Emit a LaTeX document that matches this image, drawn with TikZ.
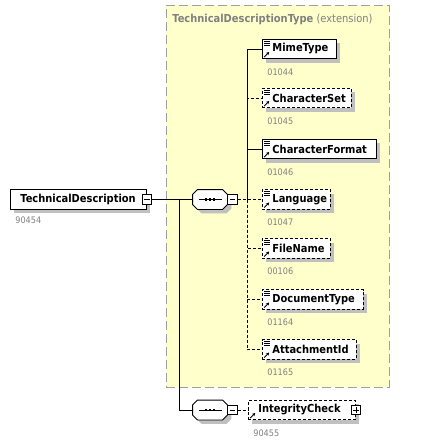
\documentclass[tikz,border=0pt]{standalone}
\usepackage{fontspec}
\setmainfont{DejaVu Sans Condensed}
\usetikzlibrary{shadows,arrows.meta}
\definecolor{ybg}{RGB}{255,255,204}
\definecolor{yborder}{RGB}{160,160,160}
\definecolor{shgray}{RGB}{192,192,192}
\definecolor{numgray}{RGB}{128,128,128}
\definecolor{titlegray}{RGB}{128,128,128}
\newcommand\octpath[1]{([xshift=5pt]#1.north west) -- ([xshift=-5pt]#1.north east) -- ([yshift=-5pt]#1.north east) -- ([yshift=5pt]#1.south east) -- ([xshift=-5pt]#1.south east) -- ([xshift=5pt]#1.south west) -- ([yshift=5pt]#1.south west) -- ([yshift=-5pt]#1.north west) -- cycle}
\newcommand\seqdraw[1]{%
  \fill[shgray, transform canvas={shift={(4pt,-4pt)}}] \octpath{#1};
  \draw[fill=white] \octpath{#1};
  \draw ([xshift=-11.5pt]#1.center) -- ([xshift=11.5pt]#1.center);
  \foreach \dx in {-4,0,4} {\fill ([xshift=\dx pt-1.3pt,yshift=-1.3pt]#1.center) rectangle ([xshift=\dx pt+1.3pt,yshift=1.3pt]#1.center);}
}
\newcommand\minusdraw[1]{\draw[line width=0.8pt] ([xshift=-2.6pt]#1.center) -- ([xshift=2.6pt]#1.center);}
\newcommand\plusdraw[1]{\draw[line width=0.8pt] ([xshift=-2.6pt]#1.center) -- ([xshift=2.6pt]#1.center) ([yshift=-2.6pt]#1.center) -- ([yshift=2.6pt]#1.center);}
\newcommand\arrowicon[1]{\draw[line width=0.8pt, -{Stealth[length=3pt,width=3.2pt]}] ([xshift=2.2pt,yshift=2.2pt]#1.south west) -- ++(5,-5);}
\newcommand\elicons[1]{%
  \foreach \dy in {2.2,4.2,6.2} {\draw[line width=0.8pt] ([xshift=2pt,yshift=-\dy pt]#1.north west) -- ++(5.5,0);}
  \arrowicon{#1}}
\begin{document}
\begin{tikzpicture}[x=1pt,y=-1pt, line width=0.9pt,
  elem/.style={draw, fill=white, inner xsep=0pt, inner ysep=0pt, minimum height=19.5pt, anchor=west,
    font=\fontsize{11}{13}\selectfont\bfseries,
    drop shadow={shadow xshift=4pt, shadow yshift=-4pt, fill=shgray, opacity=1}},
  opt/.style={dash pattern=on 3pt off 2pt},
  num/.style={anchor=west, inner sep=0pt, text=numgray, font=\fontsize{9}{10}\selectfont},
  pm/.style={draw, fill=white, minimum size=9.5pt, inner sep=0pt},
  seqbox/.style={minimum width=34pt, minimum height=19pt, inner sep=0pt},
]
\useasboundingbox (0,0) rectangle (430,444);
% extension box
\node[draw=yborder, fill=ybg, dash pattern=on 9pt off 4pt, line width=0.9pt, minimum width=223pt, minimum height=382pt, anchor=north west, inner sep=0pt] (ext) at (166,5) {};
\node[anchor=west, inner sep=0pt, text=titlegray, font=\fontsize{11}{13}\selectfont] (title) at (172,19.5) {\textbf{TechnicalDescriptionType} (extension)};

% root
\node[elem] (td) at (10,199.5) {\makebox[136pt][l]{\hspace{10pt}TechnicalDescription}};
\node[pm] (tdm) at (td.east) {};
\minusdraw{tdm}
\node[num] (tdn) at (15,220) {90454};

% sequences
\node[seqbox] (s1) at (210,199.5) {};
\node[seqbox] (s2) at (210,410) {};
\seqdraw{s1}
\seqdraw{s2}
\node[pm, anchor=west] (s1m) at (s1.east) {};
\minusdraw{s1m}
\node[pm, anchor=west] (s2m) at (s2.east) {};
\minusdraw{s2m}

\coordinate (j1) at (179,199.5);
\draw (tdm.east) -- (s1.west);
\draw (j1) |- (s2.west);

% children
\node[elem] (c1) at (262,49) {\makebox[74pt][l]{\hspace{10pt}MimeType}};
\node[elem, opt] (c2) at (262,98) {\makebox[89pt][l]{\hspace{10pt}CharacterSet}};
\node[elem] (c3) at (262,149) {\makebox[114pt][l]{\hspace{10pt}CharacterFormat}};
\node[elem, opt] (c4) at (262,199.5) {\makebox[68pt][l]{\hspace{10pt}Language}};
\node[elem, opt] (c5) at (262,248.5) {\makebox[68pt][l]{\hspace{10pt}FileName}};
\node[elem, opt] (c6) at (262,299.5) {\makebox[101pt][l]{\hspace{10pt}DocumentType}};
\node[elem, opt] (c7) at (262,349.5) {\makebox[94pt][l]{\hspace{10pt}AttachmentId}};
\foreach \n in {c1,c2,c3,c4,c5,c6,c7} {\elicons{\n}}
\node[num] (n1) at (267,72) {01044};
\node[num] (n2) at (267,121) {01045};
\node[num] (n3) at (267,172) {01046};
\node[num] (n4) at (267,222) {01047};
\node[num] (n5) at (267,271) {00106};
\node[num] (n6) at (267,322) {01164};
\node[num] (n7) at (267,372) {01165};

\coordinate (cb) at (247,199.5);
\draw[opt] (s1m.east) -- (c4.west);
\draw[opt] (cb) |- (c2.west);
\draw[opt] (cb) |- (c5.west);
\draw[opt] (cb) |- (c6.west);
\draw[opt] (cb) |- (c7.west);
\draw (cb) |- (c1.west);
\draw (cb) |- (c3.west);

% integrity check
\node[elem, opt] (ic) at (248,410) {\makebox[107pt][l]{\hspace{10pt}IntegrityCheck}};
\arrowicon{ic}
\node[pm] (icp) at (ic.east) {};
\plusdraw{icp}
\node[num] (icn) at (253,433) {90455};
\draw[opt] (s2m.east) -- (ic.west);
\end{tikzpicture}
\end{document}
